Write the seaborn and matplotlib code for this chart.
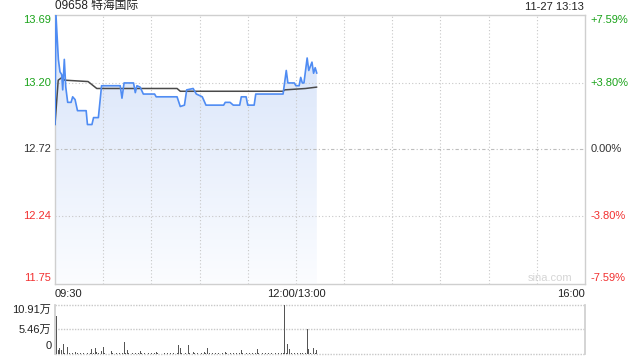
import numpy as np
import pandas as pd
import matplotlib
matplotlib.use("Agg")
import matplotlib.pyplot as plt
import seaborn as sns

# ---------------- data ----------------
title_text = "09658 特海国际"
stamp_text = "11-27 13:13"
prev_close = 12.72

# price breakpoints (minutes since 09:30, trading-time axis of 330 minutes)
price_min = [0, 0.6, 2.1, 3.1, 4.2, 4.8, 5.8, 6.7, 7.9, 10, 11, 12.5, 14, 19.4, 20.2,
             23, 24, 27, 29, 40.6, 41.7, 43, 48.9, 50, 51, 53, 55, 62, 63, 76, 78,
             80.6, 82, 86, 88, 91.7, 94, 105, 106, 109, 111, 115, 116, 119, 120,
             124, 125, 142, 144, 145, 149, 150, 152, 153, 154, 155, 157, 158, 160,
             161, 162, 163]
price_val = [12.90, 13.69, 13.37, 13.28, 13.26, 13.15, 13.37, 13.17, 13.06, 13.06,
             13.10, 13.08, 13.00, 13.00, 12.90, 12.90, 12.95, 12.95, 13.18, 13.18,
             13.09, 13.20, 13.20, 13.13, 13.18, 13.17, 13.12, 13.12, 13.10, 13.10,
             13.03, 13.04, 13.15, 13.16, 13.12, 13.10, 13.04, 13.04, 13.06, 13.06,
             13.04, 13.04, 13.10, 13.10, 13.04, 13.04, 13.12, 13.12, 13.29, 13.20,
             13.20, 13.18, 13.18, 13.24, 13.20, 13.20, 13.38, 13.29, 13.35, 13.27,
             13.31, 13.27]

# average price line breakpoints
avg_min = [0, 2, 4.4, 6, 20.6, 26, 76, 78, 142, 143, 156, 163]
avg_val = [12.90, 13.22, 13.24, 13.22, 13.21, 13.16, 13.16, 13.14, 13.14, 13.15,
           13.16, 13.17]

# volume per minute (万)
volume = [1.0, 8.5, 0.8, 1.3, 0.8, 2.3, 0.2, 0.1, 1.6, 0.2,
          0.1, 0.2, 0.1, 0.4, 0.2, 0.1, 0.2, 0.1, 0.2, 0.1,
          0.2, 0.1, 0.2, 1.2, 0.2, 1.4, 0.5, 0.2, 0.1, 0.7,
          1.6, 0.2, 0.1, 0.2, 0.1, 0.7, 0.2, 0.1, 0.2, 0.1,
          0.2, 0.1, 0.2, 2.7, 0.2, 1.0, 0.2, 0.1, 0.2, 0.1,
          0.2, 0.1, 0.2, 0.7, 0.2, 0.1, 0.2, 0.1, 0.2, 0.1,
          0.2, 0.1, 0.2, 0.4, 0.2, 0.1, 0.2, 0.1, 0.2, 0.1,
          0.2, 0.1, 0.2, 0.1, 0.2, 0.1, 0.2, 1.9, 1.4, 0.2,
          0.1, 0.2, 0.1, 2.1, 0.2, 0.1, 0.4, 0.2, 0.1, 0.2,
          0.1, 0.2, 0.1, 0.4, 0.2, 1.4, 0.2, 0.1, 0.2, 0.1,
          0.3, 0.1, 0.2, 0.1, 0.2, 0.1, 0.4, 0.2, 0.1, 0.2,
          0.1, 0.2, 0.1, 0.2, 0.1, 0.2, 1.0, 0.2, 0.1, 0.2,
          0.1, 0.2, 0.1, 0.2, 0.1, 0.2, 1.2, 0.2, 0.1, 0.2,
          0.1, 0.2, 0.1, 0.2, 0.1, 0.2, 0.1, 0.2, 0.1, 0.2,
          0.1, 0.2, 0.2, 10.91, 0.3, 2.3, 1.2, 0.2, 0.1, 0.2,
          0.1, 0.2, 0.1, 0.2, 0.3, 0.1, 0.2, 5.5, 1.2, 0.2,
          0.1, 1.4, 0.2, 1.0]
vol_minutes = list(range(len(volume)))

price_ticks = [13.69, 13.20, 12.72, 12.24, 11.75]
price_labels = ["13.69", "13.20", "12.72", "12.24", "11.75"]
pct_labels = ["+7.59%", "+3.80%", "0.00%", "-3.80%", "-7.59%"]
vol_ticks = [10.91, 5.46, 0]
vol_labels = ["10.91万", "5.46万", "0"]
x_tick_pos = [0, 150, 330]
x_tick_labels = ["09:30", "12:00/13:00", "16:00"]

# ---------------- style ----------------
sns.set_theme(style="white")
plt.rcParams["font.family"] = ["Liberation Sans", "Noto Sans CJK SC", "DejaVu Sans"]

UP = "#1aa31a"
DOWN = "#f23030"
FLAT = "#333333"
GRID = "#c8c8c8"
BORDER = "#cfcfcf"

fig = plt.figure(figsize=(6.4, 3.6), dpi=100)
W, H = 640, 360
ax = fig.add_axes([55 / W, 1 - 284 / H, 530 / W, 269 / H])
axv = fig.add_axes([55 / W, 1 - 354 / H, 530 / W, 49 / H])

XMAX = 330
YMIN, YMAX = 11.75, 13.69

# ---------------- price panel ----------------
df_p = pd.DataFrame({"t": price_min, "p": price_val})
df_a = pd.DataFrame({"t": avg_min, "p": avg_val})

poly = ax.fill_between(df_p["t"], df_p["p"], YMIN, color="none", lw=0)
grad = np.linspace(0, 1, 256).reshape(-1, 1)
top_c = np.array([0.835, 0.886, 0.976])
bot_c = np.array([0.985, 0.99, 1.0])
img = top_c[None, None, :] * (1 - grad[:, :, None]) + bot_c[None, None, :] * grad[:, :, None]
im = ax.imshow(img, extent=[0, XMAX, YMIN, YMAX], aspect="auto", origin="upper", zorder=1)
im.set_clip_path(poly.get_paths()[0], transform=ax.transData)

for m in range(30, XMAX, 30):
    ax.axvline(m, color=GRID, lw=0.8, ls=(0, (1, 2)), zorder=2)
for v in [13.20, 12.24]:
    ax.axhline(v, color=GRID, lw=0.8, ls=(0, (1, 2)), zorder=2)
ax.axhline(prev_close, color="#bdbdbd", lw=0.8, ls=(0, (3, 2, 1, 2)), zorder=2)

sns.lineplot(data=df_p, x="t", y="p", ax=ax, color="#4f8cf3", lw=1.2,
             estimator=None, sort=False, zorder=4)
sns.lineplot(data=df_a, x="t", y="p", ax=ax, color="#4a4a4a", lw=1.1,
             estimator=None, sort=False, zorder=3)

ax.set_xlim(0, XMAX)
ax.set_ylim(YMIN, YMAX)
ax.set_xticks([])
ax.set_yticks([])
ax.set_xlabel("")
ax.set_ylabel("")
for s in ax.spines.values():
    s.set_color(BORDER)
    s.set_linewidth(1)

colors = [UP, UP, FLAT, DOWN, DOWN]
vas = ["top", "center", "center", "center", "bottom"]
for v, lab, pct, c, va in zip(price_ticks, price_labels, pct_labels, colors, vas):
    yoff = 0.006 if va == "bottom" else 0
    ax.text(-0.007, v + yoff, lab, transform=ax.get_yaxis_transform(), ha="right",
            va=va, fontsize=8, color=c)
    ax.text(1.01, v + yoff, pct, transform=ax.get_yaxis_transform(), ha="left",
            va=va, fontsize=8, color=c)

has = ["left", "center", "right"]
for pos, lab, ha in zip(x_tick_pos, x_tick_labels, has):
    ax.text(pos, -0.018, lab, transform=ax.get_xaxis_transform(), ha=ha, va="top",
            fontsize=8, color="#222222")

ax.text(0.0, 1.012, title_text, transform=ax.transAxes, ha="left", va="bottom",
        fontsize=8.5, color="#222222")
ax.text(0.997, 1.012, stamp_text, transform=ax.transAxes, ha="right", va="bottom",
        fontsize=8, color="#222222")
ax.text(0.977, 0.005, "sina.com", transform=ax.transAxes, ha="right", va="bottom",
        fontsize=8, color="#d5d5d5")

# ---------------- volume panel ----------------
df_v = pd.DataFrame({"t": vol_minutes, "v": volume})
sns.barplot(data=df_v, x="t", y="v", ax=axv, native_scale=True, color="#555555",
            width=0.6, linewidth=0, errorbar=None, saturation=1, zorder=3)
axv.set_xlim(0, XMAX)
axv.set_ylim(0, 10.91)
axv.set_xticks([])
axv.set_yticks([])
axv.set_xlabel("")
axv.set_ylabel("")
axv.spines["top"].set_visible(False)
axv.spines["bottom"].set_visible(False)
axv.spines["left"].set_color(BORDER)
axv.spines["right"].set_color(BORDER)
for v in vol_ticks:
    axv.axhline(v, color=GRID, lw=1.0, ls=(0, (1, 1)), zorder=1, clip_on=False)

vvas = ["top", "center", "bottom"]
for v, lab, va in zip(vol_ticks, vol_labels, vvas):
    off = 0.6 if va == "bottom" else 0
    axv.text(-0.007, v + off, lab, transform=axv.get_yaxis_transform(), ha="right",
             va=va, fontsize=8, color="#222222")

fig.savefig("out.png", dpi=100)
